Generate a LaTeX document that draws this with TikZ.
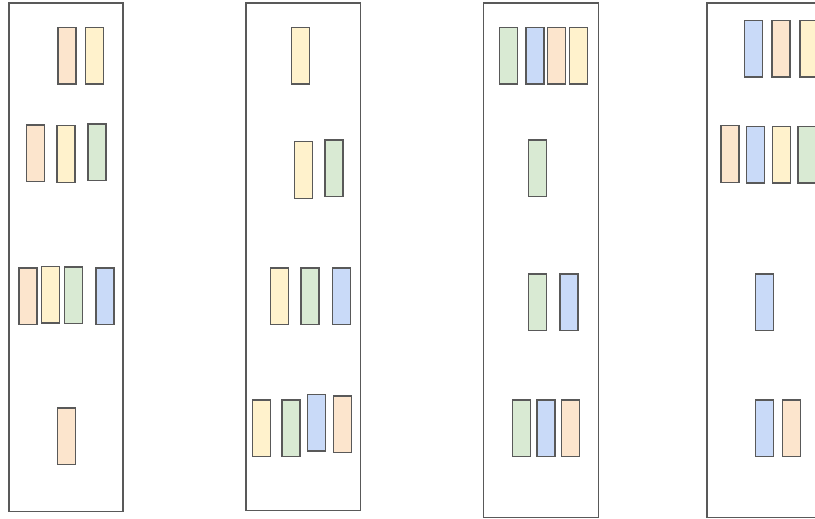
\documentclass[tikz,border=0pt]{standalone}
\usetikzlibrary{positioning}
\definecolor{or}{HTML}{FCE5CD}
\definecolor{ye}{HTML}{FFF2CC}
\definecolor{gr}{HTML}{D9EAD3}
\definecolor{bl}{HTML}{C9DAF8}
\definecolor{st}{HTML}{595959}
\tikzset{
  bar/.style={draw=st, line width=1.5pt, minimum width=18pt, minimum height=56.5pt, inner sep=0pt, outer sep=0pt},
  box/.style={draw=st, line width=1.3pt}
}
\begin{document}
\begin{tikzpicture}[x=1pt,y=-1pt]
\useasboundingbox (0,0) rectangle (815,519);
\clip (0,0) rectangle (815,519);
% containers
\draw[box] (9,3) rectangle (123,511.5);
\draw[box] (246,3) rectangle (360.7,510.8);
\draw[box] (483.3,3) rectangle (598.3,517.7);
\draw[box] (707,3) rectangle (822,517.7);
% column 1
\node[bar, fill=or] (a1) at (67,56) {};
\node[bar, fill=ye] (a2) at (94.3,56) {};
\node[bar, fill=or] (a3) at (35.7,153.3) {};
\node[bar, fill=ye] (a4) at (66.2,154) {};
\node[bar, fill=gr] (a5) at (96.8,152.3) {};
\node[bar, fill=or] (a6) at (27.8,296.3) {};
\node[bar, fill=ye] (a7) at (50.5,294.5) {};
\node[bar, fill=gr] (a8) at (73.3,295) {};
\node[bar, fill=bl] (a9) at (105,296.3) {};
\node[bar, fill=or] (a10) at (66.3,436) {};
% column 2
\node[bar, fill=ye] (b1) at (300.3,56) {};
\node[bar, fill=ye] (b2) at (303.5,170) {};
\node[bar, fill=gr] (b3) at (334.2,168.3) {};
\node[bar, fill=ye] (b4) at (279.5,296.2) {};
\node[bar, fill=gr] (b5) at (309.8,296.2) {};
\node[bar, fill=bl] (b6) at (341.7,296.2) {};
\node[bar, fill=ye] (b7) at (261.5,428) {};
\node[bar, fill=gr] (b8) at (290.8,428) {};
\node[bar, fill=bl] (b9) at (316.7,422.8) {};
\node[bar, fill=or] (b10) at (342.5,424.3) {};
% column 3
\node[bar, fill=gr] (c1) at (508.3,56) {};
\node[bar, fill=bl] (c2) at (535,56) {};
\node[bar, fill=or] (c3) at (556.7,56) {};
\node[bar, fill=ye] (c4) at (578.3,56) {};
\node[bar, fill=gr] (c5) at (537.3,168.3) {};
\node[bar, fill=gr] (c6) at (537.3,302.3) {};
\node[bar, fill=bl] (c7) at (569.2,302.3) {};
\node[bar, fill=gr] (c8) at (521.5,428) {};
\node[bar, fill=bl] (c9) at (546,428) {};
\node[bar, fill=or] (c10) at (570.7,428) {};
% column 4
\node[bar, fill=bl] (d1) at (753.5,48.7) {};
\node[bar, fill=or] (d2) at (781.2,48.7) {};
\node[bar, fill=ye] (d3) at (809,48.7) {};
\node[bar, fill=or] (d4) at (729.8,154) {};
\node[bar, fill=bl] (d5) at (755.5,154.7) {};
\node[bar, fill=ye] (d6) at (781.5,154.7) {};
\node[bar, fill=gr] (d7) at (806.8,154.7) {};
\node[bar, fill=bl] (d8) at (764.7,302.3) {};
\node[bar, fill=bl] (d9) at (764.7,428) {};
\node[bar, fill=or] (d10) at (791.7,428) {};
\end{tikzpicture}
\end{document}
